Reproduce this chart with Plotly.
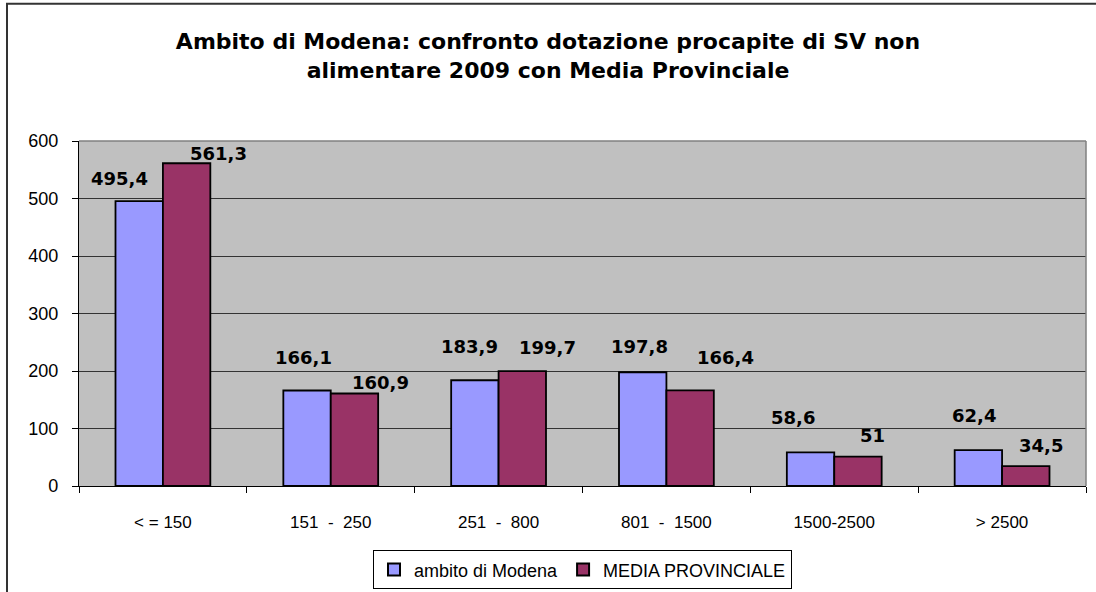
import plotly.graph_objects as go

categories = ["<=150", "151 - 250", "251 - 800", "801 - 1500", "1500-2500", ">2500"]
tick_labels = ["< = 150", "151  -  250", "251  -  800", "801  -  1500", "1500-2500", "> 2500"]
modena = [495.4, 166.1, 183.9, 197.8, 58.6, 62.4]
provinciale = [561.3, 160.9, 199.7, 166.4, 51, 34.5]
series_names = ["ambito di Modena", "MEDIA PROVINCIALE"]
y_ticks = [0, 100, 200, 300, 400, 500, 600]

# label placement (pixel offsets from group center / bar top), matching the original layout
label_dx = [[-43, -27, -29, -27, -41, -28], [56, 50, 49, 59, 38, 39]]
label_dy = [[23, 33, 34, 26, 35, 35], [10, 11, 24, 33, 21, 21]]

def fmt(v):
    return f"{v:g}".replace(".", ",")

fig = go.Figure()
colors = ["#9999FF", "#993366"]
for name, vals, col in zip(series_names, [modena, provinciale], colors):
    fig.add_trace(go.Bar(
        x=categories, y=vals, name=name,
        marker=dict(color=col, line=dict(color="black", width=1.8)),
        hoverinfo="x+y",
    ))

annotations = []
for s, vals in enumerate([modena, provinciale]):
    for i, (c, v) in enumerate(zip(categories, vals)):
        annotations.append(dict(
            x=c, y=v, xref="x", yref="y", text=fmt(v), showarrow=False,
            xshift=label_dx[s][i], yshift=label_dy[s][i], yanchor="middle",
            font=dict(family="DejaVu Sans", size=18, color="black", weight="bold"),
        ))

fig.update_layout(
    width=1096, height=592,
    margin=dict(l=79, r=10, t=141, b=106, autoexpand=False),
    paper_bgcolor="white", plot_bgcolor="#C0C0C0",
    barmode="group", bargap=0.435, bargroupgap=0,
    title=dict(
        text="Ambito di Modena: confronto dotazione procapite di SV non<br>alimentare 2009 con Media Provinciale",
        x=0.5, xanchor="center", y=0.917, yanchor="middle",
        font=dict(family="DejaVu Sans", size=22, color="black", weight="bold"),
    ),
    showlegend=True,
    legend=dict(
        orientation="h", x=0.5, xanchor="center", y=-0.243, yanchor="middle",
        bordercolor="black", borderwidth=1, bgcolor="white",
        font=dict(family="Liberation Sans", size=18, color="black"),
        itemwidth=30, tracegroupgap=0, itemsizing="constant",
    ),
    annotations=annotations,
    shapes=[
        dict(type="line", xref="paper", yref="paper", x0=0, x1=1, y0=1, y1=1,
             line=dict(color="#808080", width=1.5)),
        dict(type="line", xref="paper", yref="paper", x0=1, x1=1, y0=0, y1=1,
             line=dict(color="#808080", width=1.5)),
        dict(type="rect", xref="paper", yref="paper", x0=-0.0715, x1=1.05, y0=-0.4, y1=1.398,
             line=dict(color="#333333", width=2)),
    ],
)

fig.update_xaxes(
    type="category", tickmode="array", tickvals=categories, ticktext=tick_labels,
    tickson="boundaries", ticks="outside", ticklen=6, tickcolor="black",
    showline=True, linecolor="black", linewidth=1.2, showgrid=False,
    ticklabelstandoff=20, automargin=False,
    tickfont=dict(family="Liberation Sans", size=17, color="black"),
)
fig.update_yaxes(
    range=[0, 600], tickvals=y_ticks, ticks="outside", ticklen=6, tickcolor="black",
    showline=True, linecolor="black", linewidth=1.2,
    showgrid=True, gridcolor="#333333", gridwidth=1, zeroline=False,
    ticklabelstandoff=10, automargin=False,
    tickfont=dict(family="Liberation Sans", size=18, color="black"),
)

fig.write_html("out.html", config={"displayModeBar": False},
               post_script="document.body.style.margin='0';")
